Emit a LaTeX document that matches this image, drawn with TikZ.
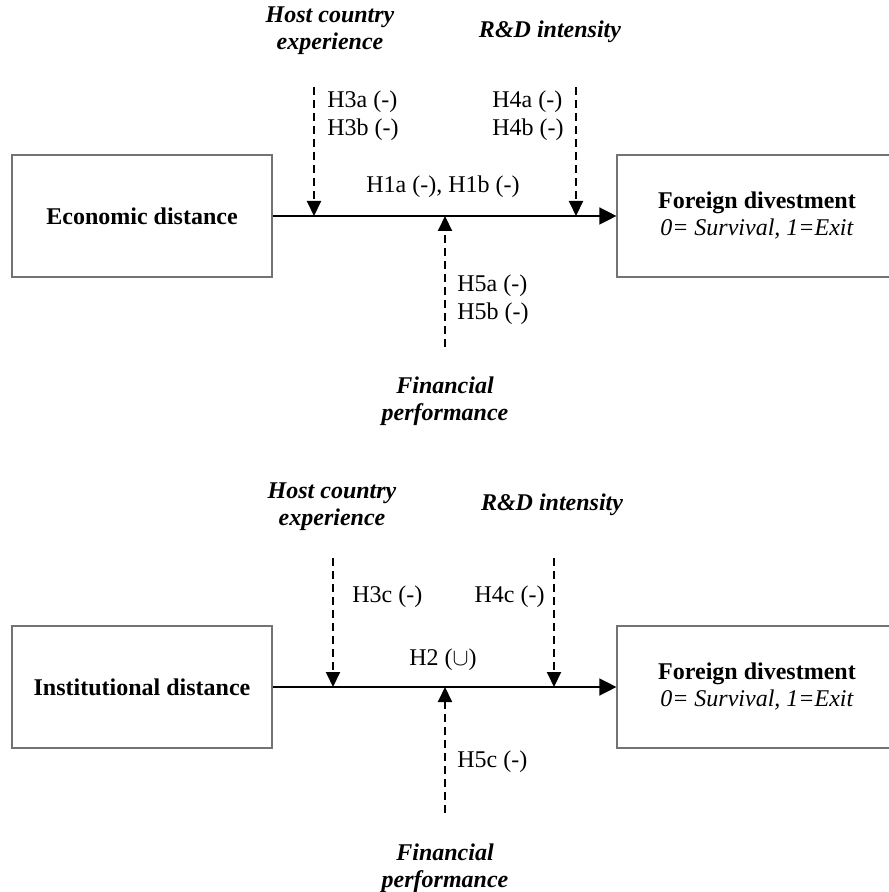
\documentclass[tikz,border=0pt]{standalone}
\usepackage{fontspec}
\setmainfont{Liberation Serif}
\usetikzlibrary{arrows.meta}
\newcommand\figfont{\fontsize{12}{13.5}\selectfont}
\tikzset{
  varbox/.style={draw=black!55, line width=0.6pt, minimum width=130pt, minimum height=61pt, inner sep=0pt, font=\figfont\bfseries},
  outbox/.style={draw=black!55, line width=0.6pt, minimum width=140pt, minimum height=61pt, inner sep=0pt, align=center, font=\figfont},
  modlabel/.style={align=center, inner sep=0pt, font=\fontsize{12}{13.5}\selectfont\bfseries\itshape},
  hyp/.style={align=left, inner sep=0pt, font=\fontsize{12}{14}\selectfont},
  effect/.style={line width=0.7pt, -{Triangle[length=8.5pt,width=8.5pt]}},
  moderate/.style={line width=1pt, dash pattern=on 4pt off 2.5pt, -{Triangle[length=7.5pt,width=7pt]}}
}
\begin{document}
\begin{tikzpicture}[x=0.5pt,y=-0.5pt]
	\useasboundingbox (0,0) rectangle (888,892);

	% economic distance
	\node[varbox] (econ) at (142,216) {Economic distance};
	\node[outbox] (div1) at (757,216) {\textbf{Foreign divestment}\\\textit{0= Survival, 1=Exit}};
	\node[modlabel] (host1) at (330,31) {Host country\\experience};
	\node[modlabel] (rd1) at (550,32) {R\&D intensity};
	\node[modlabel] (fin1) at (445,401) {Financial\\performance};

	\coordinate (h3top) at (314,87);
	\coordinate (h3) at (314,216);
	\coordinate (h4top) at (576,87);
	\coordinate (h4) at (576,216);
	\coordinate (h5bot) at (445,347);
	\coordinate (h5) at (445,216);

	\draw[effect] (econ) -- (div1);
	\draw[moderate] (h3top) -- (h3);
	\draw[moderate] (h4top) -- (h4);
	\draw[moderate] (h5bot) -- (h5);

	\node[hyp] (l1) at (443,187) {H1a (-), H1b (-)};
	\node[hyp, anchor=west] (l3) at (327,116) {H3a (-)\\H3b (-)};
	\node[hyp, anchor=east] (l4) at (564,116) {H4a (-)\\H4b (-)};
	\node[hyp, anchor=west] (l5) at (457,300) {H5a (-)\\H5b (-)};

	% institutional distance
	\node[varbox] (inst) at (142,687) {Institutional distance};
	\node[outbox] (div2) at (757,687) {\textbf{Foreign divestment}\\\textit{0= Survival, 1=Exit}};
	\node[modlabel] (host2) at (332,507) {Host country\\experience};
	\node[modlabel] (rd2) at (552,505) {R\&D intensity};
	\node[modlabel] (fin2) at (445,868) {Financial\\performance};

	\coordinate (h3ctop) at (333,558);
	\coordinate (h3c) at (333,687);
	\coordinate (h4ctop) at (554,558);
	\coordinate (h4c) at (554,687);
	\coordinate (h5cbot) at (445,813);
	\coordinate (h5c) at (445,687);

	\draw[effect] (inst) -- (div2);
	\draw[moderate] (h3ctop) -- (h3c);
	\draw[moderate] (h4ctop) -- (h4c);
	\draw[moderate] (h5cbot) -- (h5c);

	\node[hyp] (l2) at (443,660) {H2 ($\cup$)};
	\node[hyp, anchor=west] (l3c) at (352,597) {H3c (-)};
	\node[hyp, anchor=east] (l4c) at (545,597) {H4c (-)};
	\node[hyp, anchor=west] (l5c) at (457,762) {H5c (-)};
\end{tikzpicture}
\end{document}
